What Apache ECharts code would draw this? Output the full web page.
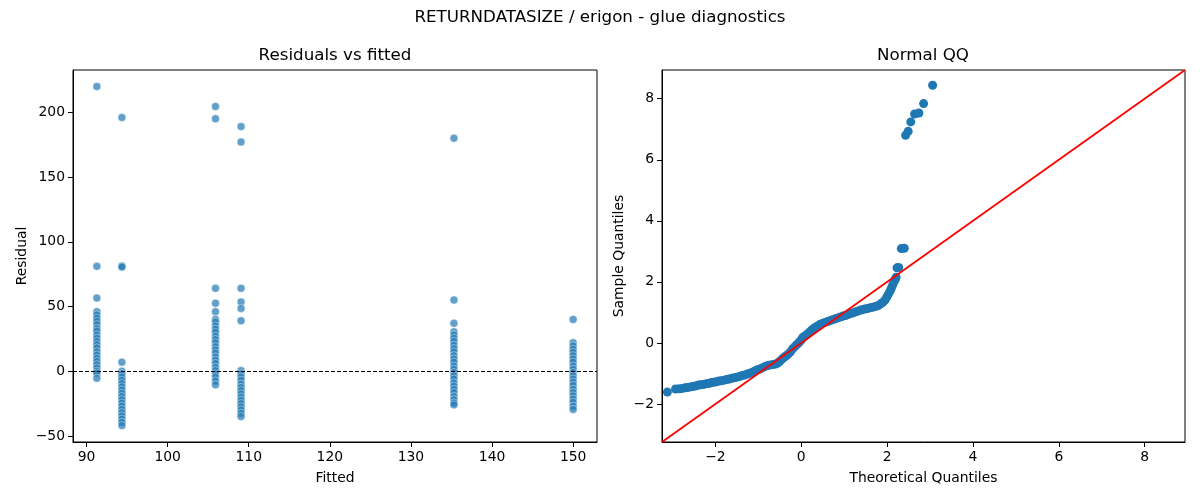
<!DOCTYPE html>
<html><head><meta charset="utf-8">
<script src="https://cdn.jsdelivr.net/npm/echarts@6/dist/echarts.min.js"></script>
<style>html,body{margin:0;padding:0;background:#fff}#c{width:1200px;height:500px}</style>
</head><body><div id="c"></div>
<script>
// ---------- data ----------
const fittedLevels = [91.27, 94.36, 105.9, 109.05, 135.3, 150.0];
const residualsLevel1 = [220, 81, 56.5, 46, 43.5, 41, 38.5, 36, 33, 31, 28, 25.5, 23, 20.5, 18, 15, 12.5, 10, 7.5, 5, 2.5, 0, -1.5, -5.5];
const residualsLevel2 = [196, 81.3, 80.5, 7, 0, -2, -4.5, -7, -9.5, -12, -14.5, -17, -19.5, -22, -24.5, -27, -29.5, -32, -34.5, -37, -39.5, -42];
const residualsLevel3 = [204.5, 195, 64, 52.5, 46, 40, 38, 35, 32.5, 30, 27, 24.5, 22, 19, 16.5, 14, 11, 8.5, 6, 3, 0.5, -2, -4.5, -7.5, -10.5];
const residualsLevel4 = [189, 177, 64, 53.5, 48.5, 39, 0.5, -2, -4.5, -7, -10, -12.5, -15, -17.5, -20, -22.5, -25, -27.5, -30, -32.5, -35];
const residualsLevel5 = [180, 55, 37, 30.5, 28, 25.5, 23, 20, 17.5, 15, 12, 9.5, 7, 4, 1.5, -1, -3.5, -6, -9, -11.5, -14, -16.5, -19.5, -22, -24.5, -26];
const residualsLevel6 = [40, 22, 19.5, 17, 14.5, 12, 9.5, 7, 4, 1.5, -1, -3.5, -6, -8.5, -11, -14, -16.5, -19, -21.5, -24, -27, -29.5];
const residualGroups = [residualsLevel1, residualsLevel2, residualsLevel3, residualsLevel4, residualsLevel5, residualsLevel6];

const qqTheoretical = [-3.12,-2.93,-2.84,-2.77,-2.71,-2.65,-2.59,-2.53,-2.47,-2.41,-2.36,-2.30,-2.25,-2.19,-2.14,-2.09,-2.04,-1.98,-1.92,-1.86,-1.80,-1.74,-1.68,-1.62,-1.56,-1.50,-1.44,-1.38,-1.32,-1.26,-1.20,-1.14,-1.08,-1.02,-0.96,-0.90,-0.84,-0.78,-0.72,-0.66,-0.60,-0.55,-0.50,-0.45,-0.40,-0.35,-0.30,-0.25,-0.20,-0.15,-0.10,-0.06,-0.03,0.00,0.03,0.07,0.11,0.16,0.21,0.26,0.31,0.37,0.43,0.49,0.55,0.61,0.67,0.73,0.79,0.85,0.91,0.97,1.03,1.09,1.15,1.21,1.27,1.33,1.39,1.45,1.51,1.57,1.63,1.69,1.75,1.80,1.85,1.90,1.95,1.99,2.03,2.07,2.10,2.13,2.16,2.19,2.21,2.23,2.27,2.33,2.40,2.43,2.49,2.55,2.64,2.74,2.85,3.06];
const qqSample = [-1.61,-1.51,-1.50,-1.49,-1.47,-1.46,-1.44,-1.43,-1.41,-1.39,-1.37,-1.36,-1.35,-1.33,-1.32,-1.30,-1.29,-1.27,-1.25,-1.24,-1.22,-1.20,-1.18,-1.16,-1.14,-1.12,-1.10,-1.07,-1.05,-1.02,-0.99,-0.96,-0.92,-0.88,-0.85,-0.81,-0.77,-0.74,-0.72,-0.71,-0.69,-0.66,-0.60,-0.53,-0.47,-0.42,-0.36,-0.29,-0.19,-0.12,-0.05,0.00,0.05,0.10,0.17,0.21,0.25,0.31,0.38,0.44,0.50,0.55,0.60,0.64,0.67,0.70,0.73,0.76,0.79,0.82,0.85,0.88,0.90,0.93,0.96,0.99,1.02,1.05,1.08,1.10,1.12,1.14,1.16,1.18,1.20,1.23,1.28,1.33,1.40,1.50,1.60,1.70,1.80,1.90,2.00,2.08,2.15,2.46,2.47,3.09,3.10,6.80,6.93,7.24,7.50,7.53,7.84,8.44];

const leftXTicks = [90, 100, 110, 120, 130, 140, 150];
const leftYTicks = [-50, 0, 50, 100, 150, 200];
const qqTicks = [-2, 0, 2, 4, 6, 8];
const leftXRange = [88.33, 152.94];
const leftYRange = [-54.7, 232.7];
const qqRange = [-3.245, 8.94];
const zeroLevel = [0];

// ---------- build ----------
const residualData = [];
residualGroups.forEach((g, i) => g.forEach(r => residualData.push([fittedLevels[i], r])));
const qqData = qqTheoretical.map((t, i) => [t, qqSample[i]]);
const lineData = qqRange.map(v => [v, v]);

const FONT = 'DejaVu Sans';
const minus = v => String(v).replace('-', '\u2212');
function axis(ticks, range, name, gap, extra) {
  return Object.assign({
    type: 'value', min: range[0], max: range[1], name: name,
    nameLocation: 'middle', nameGap: gap,
    nameTextStyle: {fontFamily: FONT, fontSize: 13.9, color: '#000'},
    axisLine: {show: true, onZero: false, lineStyle: {color: '#000', width: 1}},
    axisTick: {show: true, inside: false, length: 5, customValues: ticks, lineStyle: {color: '#000', width: 1}},
    axisLabel: {show: true, customValues: ticks, formatter: minus, fontFamily: FONT, fontSize: 13.9, color: '#000', margin: 8},
    splitLine: {show: false}
  }, extra || {});
}

const chart = echarts.init(document.getElementById('c'), null, {renderer: 'canvas'});
chart.setOption({
  animation: false,
  backgroundColor: '#fff',
  graphic: [
    {type: 'text', x: 600, y: 18, style: {text: 'RETURNDATASIZE / erigon - glue diagnostics', font: '16.7px "DejaVu Sans"', fill: '#000', align: 'center', verticalAlign: 'middle'}},
    {type: 'text', x: 335, y: 56, style: {text: 'Residuals vs fitted', font: '16.7px "DejaVu Sans"', fill: '#000', align: 'center', verticalAlign: 'middle'}},
    {type: 'text', x: 923, y: 56, style: {text: 'Normal QQ', font: '16.7px "DejaVu Sans"', fill: '#000', align: 'center', verticalAlign: 'middle'}}
  ],
  grid: [
    {left: 73, right: 603, top: 70, bottom: 58, show: true, borderColor: '#000', borderWidth: 1, containLabel: false},
    {left: 662, right: 15, top: 70, bottom: 58, show: true, borderColor: '#000', borderWidth: 1, containLabel: false}
  ],
  xAxis: [
    axis(leftXTicks, leftXRange, 'Fitted', 29, {gridIndex: 0}),
    axis(qqTicks, qqRange, 'Theoretical Quantiles', 29, {gridIndex: 1})
  ],
  yAxis: [
    axis(leftYTicks, leftYRange, 'Residual', 44, {gridIndex: 0}),
    axis(qqTicks, qqRange, 'Sample Quantiles', 36, {gridIndex: 1})
  ],
  series: [
    {
      type: 'scatter', xAxisIndex: 0, yAxisIndex: 0, data: residualData, symbolSize: 8,
      itemStyle: {color: '#1f77b4', opacity: 0.7, borderColor: '#ffffff', borderWidth: 0.6},
      markLine: {
        silent: true, symbol: ['none', 'none'], label: {show: false},
        lineStyle: {color: '#000', width: 1.2, type: [4, 2]},
        data: zeroLevel.map(v => ({yAxis: v}))
      }
    },
    {
      type: 'scatter', xAxisIndex: 1, yAxisIndex: 1, data: qqData, symbolSize: 9,
      itemStyle: {color: '#1f77b4', opacity: 1}
    },
    {
      type: 'line', xAxisIndex: 1, yAxisIndex: 1, data: lineData, symbol: 'none', z: 5,
      lineStyle: {color: '#ff0000', width: 1.8}
    }
  ]
});
</script></body></html>
